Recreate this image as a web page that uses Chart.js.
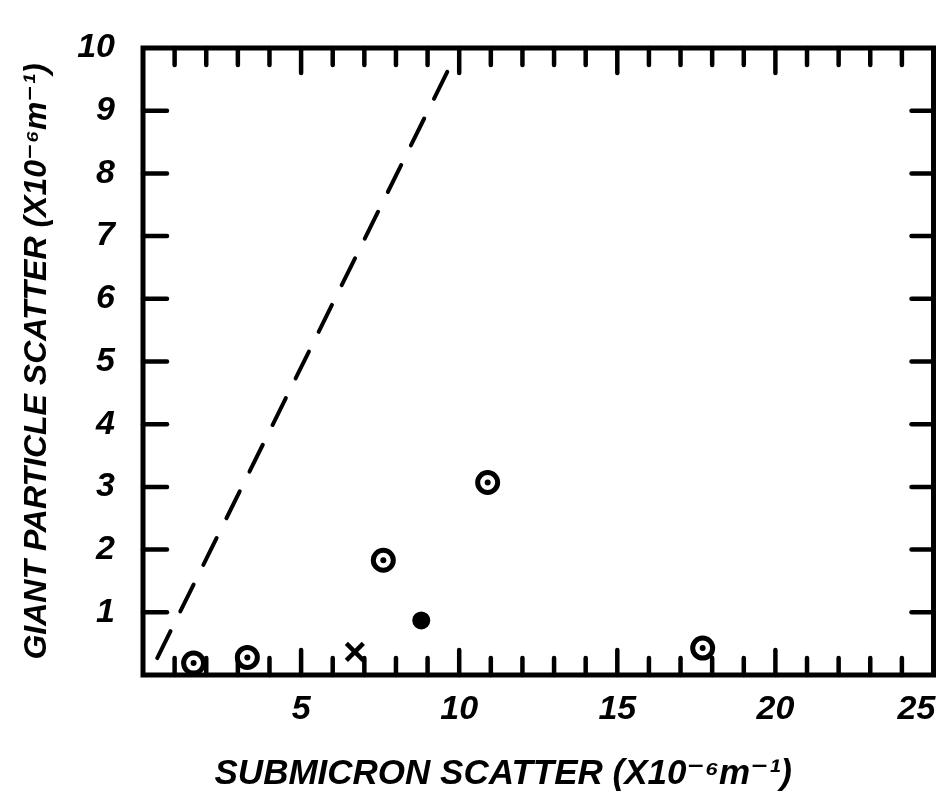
<!DOCTYPE html>
<html>
<head>
<meta charset="utf-8">
<script src="https://cdn.jsdelivr.net/npm/chart.js@4/dist/chart.umd.min.js"></script>
<style>
    html, body { margin: 0; padding: 0; background: #fff; }
    #wrap { width: 950px; height: 811px; }
</style>
</head>
<body>
<div id="wrap"><canvas id="scatterChart"></canvas></div>
<script>
// ringed points (circle with a dot in the middle)
const ringX = [1.6, 3.3, 7.6, 10.9, 17.7];
const ringY = [0.19, 0.28, 1.83, 3.07, 0.43];
// solid point
const solidX = [8.8];
const solidY = [0.87];
// cross point
const crossX = [6.7];
const crossY = [0.37];
// dashed reference line
const lineX = [0.45, 9.8];
const lineY = [0.27, 9.8];

const xLabels = [5, 10, 15, 20, 25];
const yLabels = [1, 2, 3, 4, 5, 6, 7, 8, 9, 10];

const xTitle = 'SUBMICRON SCATTER (X10\u207B\u2076m\u207B\u00B9)';
const yTitle = 'GIANT PARTICLE SCATTER (X10\u207B\u2076m\u207B\u00B9)';

const toPoints = (xs, ys) => xs.map((x, i) => ({ x: x, y: ys[i] }));

const handFont = (size) => ({ family: "'Liberation Sans', 'DejaVu Sans', sans-serif", size: size, weight: 'bold', style: 'italic' });

// frame + inward tick marks, drawn under the markers
const frameTicks = {
    id: 'frameTicks',
    beforeDatasetsDraw(chart) {
        const { ctx, chartArea: a, scales: { x, y } } = chart;
        const seg = (x1, y1, x2, y2) => { ctx.beginPath(); ctx.moveTo(x1, y1); ctx.lineTo(x2, y2); ctx.stroke(); };
        ctx.save();
        ctx.strokeStyle = '#000';
        ctx.lineCap = 'round';
        ctx.lineWidth = 4.5;
        x.ticks.forEach(t => {
            if (t.value <= 0 || t.value >= 25) return;
            const px = x.getPixelForValue(t.value);
            const len = t.value % 5 === 0 ? 25 : 17;
            seg(px, a.top, px, a.top + len);
            seg(px, a.bottom, px, a.bottom - len);
        });
        y.ticks.forEach(t => {
            if (t.value <= 0 || t.value >= 10) return;
            const py = y.getPixelForValue(t.value);
            seg(a.left, py, a.left + 24, py);
            seg(a.right, py, a.right - 22, py);
        });
        ctx.lineWidth = 5;
        ctx.lineCap = 'square';
        ctx.strokeRect(a.left, a.top, a.right - a.left, a.bottom - a.top);
        ctx.restore();
    }
};

const ctx = document.getElementById('scatterChart').getContext('2d');
new Chart(ctx, {
    type: 'scatter',
    data: {
        datasets: [
            {
                label: 'reference line',
                type: 'line',
                order: 5,
                data: toPoints(lineX, lineY),
                borderColor: '#000',
                borderWidth: 4,
                borderDash: [30, 22],
                borderCapStyle: 'round',
                pointRadius: 0,
                fill: false
            },
            {
                label: 'rings',
                order: 2,
                data: toPoints(ringX, ringY),
                pointStyle: 'circle',
                pointRadius: 10,
                pointBorderWidth: 5,
                pointBorderColor: '#000',
                pointBackgroundColor: '#fff'
            },
            {
                label: 'ring centres',
                order: 1,
                data: toPoints(ringX, ringY),
                pointStyle: 'circle',
                pointRadius: 3,
                pointBorderWidth: 0,
                pointBackgroundColor: '#000'
            },
            {
                label: 'solid',
                order: 1,
                data: toPoints(solidX, solidY),
                pointStyle: 'circle',
                pointRadius: 9,
                pointBorderWidth: 0,
                pointBackgroundColor: '#000'
            },
            {
                label: 'cross',
                order: 1,
                data: toPoints(crossX, crossY),
                pointStyle: 'crossRot',
                pointRadius: 12,
                pointBorderWidth: 4.5,
                pointBorderColor: '#000'
            }
        ]
    },
    options: {
        responsive: true,
        maintainAspectRatio: false,
        animation: false,
        layout: { padding: { top: 48, right: 13, left: 0, bottom: 0 } },
        plugins: {
            legend: { display: false },
            tooltip: { enabled: false }
        },
        scales: {
            x: {
                type: 'linear',
                min: 0,
                max: 25,
                grid: { display: false },
                border: { display: false },
                afterFit: scale => {
                    scale.height = 136;
                    scale.paddingLeft = 0;
                    scale.paddingRight = 0;
                },
                ticks: {
                    stepSize: 1,
                    autoSkip: false,
                    maxRotation: 0,
                    padding: 6,
                    color: '#000',
                    font: handFont(34),
                    callback: value => {
                        if (!xLabels.includes(value)) return '';
                        return value === 25 ? value + '\u2003' : String(value);
                    }
                },
                title: {
                    display: true,
                    text: xTitle + '\u2003\u2003',
                    color: '#000',
                    font: handFont(35),
                    padding: { top: 0, bottom: 16 }
                }
            },
            y: {
                type: 'linear',
                min: 0,
                max: 10,
                grid: { display: false },
                border: { display: false },
                afterFit: scale => {
                    scale.width = 143;
                },
                ticks: {
                    stepSize: 1,
                    autoSkip: false,
                    padding: 20,
                    color: '#000',
                    font: handFont(34),
                    callback: value => yLabels.includes(value) ? String(value) : ''
                },
                title: {
                    display: true,
                    text: yTitle,
                    color: '#000',
                    font: handFont(32),
                    padding: { top: 18, bottom: 0 }
                }
            }
        }
    },
    plugins: [frameTicks]
});
</script>
</body>
</html>
